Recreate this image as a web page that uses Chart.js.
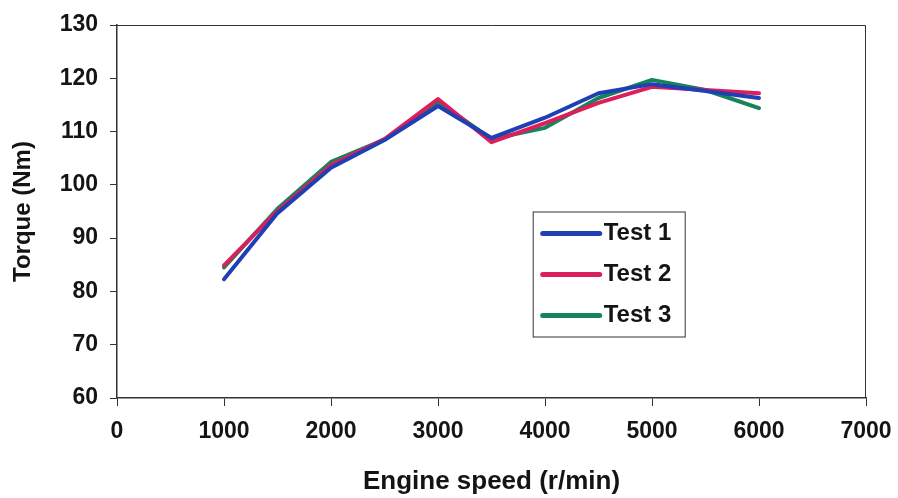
<!DOCTYPE html>
<html lang="en">
<head>
    <meta charset="UTF-8">
    <title>Torque vs engine speed</title>
    <script src="https://cdn.jsdelivr.net/npm/chart.js"></script>
    <style>
        html, body { margin: 0; padding: 0; background: #fff; }
        #wrap { width: 898px; height: 498px; }
    </style>
</head>
<body>
    <div id="wrap"><canvas id="torqueChart" width="898" height="498"></canvas></div>

    <script>
        // engine speed (r/min)
        const speeds = [1000, 1500, 2000, 2500, 3000, 3500, 4000, 4500, 5000, 5500, 6000];
        // torque (Nm)
        const test1 = [82.3, 94.7, 103.2, 108.4, 114.8, 108.8, 112.6, 117.2, 118.9, 117.6, 116.3];
        const test2 = [84.9, 95.1, 103.7, 108.6, 116.1, 108.0, 111.6, 115.4, 118.4, 117.8, 117.2];
        const test3 = [84.5, 95.5, 104.3, 108.5, 115.6, 108.6, 110.7, 116.3, 119.7, 117.8, 114.4];
        const seriesNames = ['Test 1', 'Test 2', 'Test 3'];
        const seriesColors = ['#1f3fb4', '#dc1e5a', '#15845a'];

        const font = 'Liberation Sans, Arial, sans-serif';
        const ink = '#141414';

        function points(vals) {
            return speeds.map((s, i) => ({ x: s, y: vals[i] }));
        }

        // draws the top and right edges of the plot frame
        const framePlugin = {
            id: 'frame',
            beforeDatasetsDraw(chart) {
                const a = chart.chartArea;
                const c = chart.ctx;
                c.save();
                c.strokeStyle = '#333';
                c.lineWidth = 1;
                c.beginPath();
                c.moveTo(a.left, a.top + 0.5);
                c.lineTo(a.right - 0.5, a.top + 0.5);
                c.lineTo(a.right - 0.5, a.bottom);
                c.stroke();
                c.restore();
            }
        };

        // boxed legend sitting inside the plot
        const boxLegend = {
            id: 'boxLegend',
            afterDatasetsDraw(chart) {
                const a = chart.chartArea;
                const c = chart.ctx;
                const w = a.right - a.left, h = a.bottom - a.top;
                const bx = a.left + w * 0.555, by = a.top + h * 0.5;
                const bw = 152, bh = 125;
                c.save();
                c.fillStyle = '#fff';
                c.fillRect(bx, by, bw, bh);
                c.strokeStyle = '#333';
                c.lineWidth = 1;
                c.strokeRect(bx + 0.5, by + 0.5, bw, bh);
                c.font = 'bold 24px ' + font;
                c.textBaseline = 'middle';
                chart.data.datasets.forEach((ds, i) => {
                    const y = by + 22 + i * 41;
                    c.strokeStyle = ds.borderColor;
                    c.lineWidth = 5;
                    c.lineCap = 'round';
                    c.beginPath();
                    c.moveTo(bx + 10, y);
                    c.lineTo(bx + 67, y);
                    c.stroke();
                    c.fillStyle = ink;
                    c.fillText(ds.label, bx + 71, y);
                });
                c.restore();
            }
        };

        const ctx = document.getElementById('torqueChart').getContext('2d');
        new Chart(ctx, {
            type: 'line',
            data: {
                datasets: [test1, test2, test3].map((vals, i) => ({
                    label: seriesNames[i],
                    data: points(vals),
                    borderColor: seriesColors[i],
                    borderWidth: 4,
                    pointRadius: 0,
                    tension: 0,
                    borderCapStyle: 'round',
                    borderJoinStyle: 'round'
                }))
            },
            options: {
                responsive: false,
                animation: false,
                layout: { padding: { top: 25, right: 32, left: 0, bottom: 0 } },
                plugins: {
                    legend: { display: false },
                    tooltip: { enabled: false }
                },
                scales: {
                    x: {
                        type: 'linear',
                        min: 0,
                        max: 7000,
                        afterFit: s => { s.height = 100; s.paddingLeft = 0; s.paddingRight = 0; },
                        border: { color: '#333', width: 1.5 },
                        grid: { drawOnChartArea: false, tickLength: 8, color: '#333' },
                        ticks: {
                            stepSize: 1000,
                            padding: 12,
                            color: ink,
                            maxRotation: 0,
                            font: { family: font, size: 23, weight: 'bold' },
                            callback: v => String(v)
                        },
                        title: {
                            display: true,
                            text: 'Engine speed (r/min)',
                            color: ink,
                            padding: { top: 2, bottom: 1 },
                            font: { family: font, size: 26, weight: 'bold', lineHeight: 1.2 }
                        }
                    },
                    y: {
                        min: 60,
                        max: 130,
                        afterFit: s => { s.width = 117; s.paddingTop = 0; s.paddingBottom = 0; },
                        border: { color: '#333', width: 1.5 },
                        grid: { drawOnChartArea: false, tickLength: 7, color: '#333' },
                        ticks: {
                            stepSize: 10,
                            padding: 12,
                            color: ink,
                            font: { family: font, size: 23, weight: 'bold' }
                        },
                        title: {
                            display: true,
                            text: 'Torque (Nm)',
                            color: ink,
                            padding: { top: 9, bottom: 2 },
                            font: { family: font, size: 24, weight: 'bold', lineHeight: 1.2 }
                        }
                    }
                }
            },
            plugins: [framePlugin, boxLegend]
        });
    </script>
</body>
</html>
